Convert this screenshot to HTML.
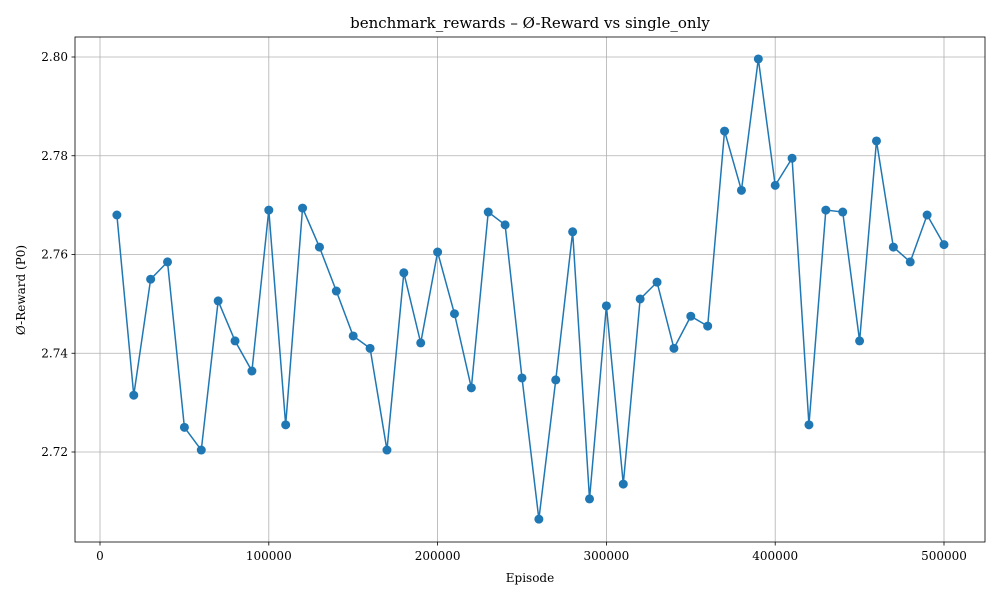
<!DOCTYPE html>
<html><head><meta charset="utf-8"><style>
body{margin:0;background:#fff;}
svg text{font-family:"DejaVu Serif","Liberation Serif",serif;fill:#000;}
</style></head><body>
<svg id="chart" width="1000" height="600" xmlns="http://www.w3.org/2000/svg"></svg>
<script>
const episodes=[10000,20000,30000,40000,50000,60000,70000,80000,90000,100000,110000,120000,130000,140000,150000,160000,170000,180000,190000,200000,210000,220000,230000,240000,250000,260000,270000,280000,290000,300000,310000,320000,330000,340000,350000,360000,370000,380000,390000,400000,410000,420000,430000,440000,450000,460000,470000,480000,490000,500000];
const rewards=[2.768,2.7315,2.755,2.7585,2.725,2.7204,2.7506,2.7425,2.7364,2.769,2.7255,2.7694,2.7615,2.7526,2.7435,2.741,2.7204,2.7563,2.7421,2.7605,2.748,2.733,2.7686,2.766,2.735,2.7064,2.7346,2.7646,2.7105,2.7496,2.7135,2.751,2.7544,2.741,2.7475,2.7455,2.785,2.773,2.7996,2.774,2.7795,2.7255,2.769,2.7686,2.7425,2.783,2.7615,2.7585,2.768,2.762];
const xTicks=[0,100000,200000,300000,400000,500000];
const yTicks=[2.72,2.74,2.76,2.78,2.80];
const L=75,R=985,T=37,B=542;
const sx=v=>100+(v/500000)*844;
const sy=v=>57+(2.80-v)/0.02*98.75;
const svg=document.getElementById('chart');
const NS='http://www.w3.org/2000/svg';
function mk(tag,attrs,parent){const e=document.createElementNS(NS,tag);for(const k in attrs)e.setAttribute(k,attrs[k]);(parent||svg).appendChild(e);return e;}
xTicks.forEach(t=>{const x=sx(t);
 const g=mk('line',{x1:x,x2:x,y1:T,y2:B,stroke:'#b0b0b0','stroke-width':0.8});
 
 
 mk('line',{x1:x,x2:x,y1:B,y2:B+3.5,stroke:'#000','stroke-width':0.8});
 const tx=mk('text',{x:x,y:B+18,'text-anchor':'middle','font-size':12});tx.textContent=t;
 
 
});
yTicks.forEach(t=>{const y=sy(t);
 const g=mk('line',{x1:L,x2:R,y1:y,y2:y,stroke:'#b0b0b0','stroke-width':0.8});
 
 
 mk('line',{x1:L-3.5,x2:L,y1:y,y2:y,stroke:'#000','stroke-width':0.8});
 const tx=mk('text',{x:L-7,y:y+4,'text-anchor':'end','font-size':12});tx.textContent=t.toFixed(2);
 
 
});
const pts=episodes.map((e,i)=>sx(e)+','+sy(rewards[i])).join(' ');
const line=mk('polyline',{points:pts,fill:'none',stroke:'#1f77b4','stroke-width':1.5});


episodes.forEach((e,i)=>{const c=mk('circle',{cx:sx(e),cy:sy(rewards[i]),r:4.5,fill:'#1f77b4'});
 
 
});
const frame=mk('rect',{x:L,y:T,width:R-L,height:B-T,fill:'none',stroke:'#000','stroke-width':0.8});


const title=mk('text',{x:530,y:28,'text-anchor':'middle','font-size':15});title.textContent='benchmark_rewards – Ø-Reward vs single_only';


const xl=mk('text',{x:530,y:582,'text-anchor':'middle','font-size':12});xl.textContent='Episode';


const yl=mk('text',{x:25,y:290,'text-anchor':'middle','font-size':12,transform:'rotate(-90 25 290)'});yl.textContent='Ø-Reward (P0)';


</script>
</body></html>
